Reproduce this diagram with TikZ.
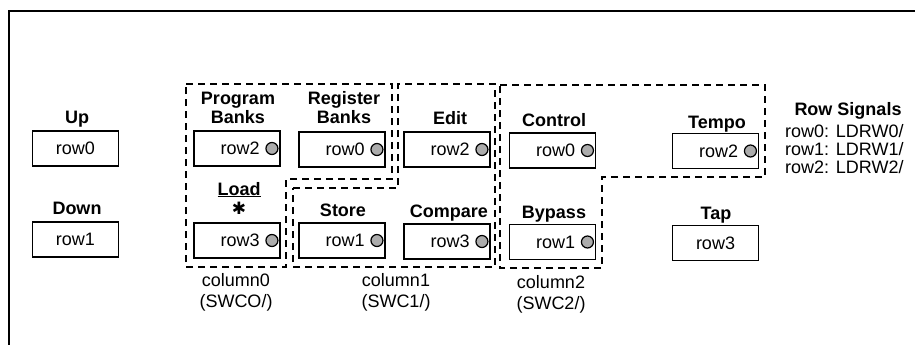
\documentclass[tikz,border=0pt]{standalone}
\usepackage{fontspec}
\setmainfont{Liberation Sans}
\newfontfamily\symfont{DejaVu Sans}
\begin{document}
\begin{tikzpicture}[x=1pt,y=-1pt,
  key/.style={draw,line width=1.9pt,minimum width=86pt,minimum height=35pt,inner sep=0pt},
  ktxt/.style={inner sep=0pt,font=\fontsize{18}{21}\selectfont},
  lbl/.style={inner sep=0pt,font=\bfseries\fontsize{18}{21}\selectfont},
  txt/.style={inner sep=0pt,font=\fontsize{18}{21}\selectfont},
  dotc/.style={circle,draw,line width=1.2pt,fill=gray!65,minimum size=12pt,inner sep=0pt},
  grp/.style={line width=1.7pt,dash pattern=on 7pt off 5pt}]
\useasboundingbox (0,0) rectangle (915,345);
\draw[line width=2pt] (9,345) -- (9,11) -- (915,11);

\newcommand\dotkey[3]{%
  \node[key] (#1) at (#2) {};
  \node[ktxt,anchor=east] (#1t) at ([xshift=-21pt]#1.east) {#3};
  \node[dotc] (#1d) at ([xshift=-9pt]#1.east) {};}

% plain keys
\node[key] (up) at (75.5,148.5) {}; \node[ktxt] (upt) at (up.center) {row0};
\node[key] (down) at (75.5,239.5) {}; \node[ktxt] (downt) at (down.center) {row1};
\node[key] (tap) at (715.5,243) {}; \node[ktxt] (tapt) at (tap.center) {row3};

% keys with indicator
\dotkey{pb}{237,148.5}{row2}
\dotkey{rb}{342,149.5}{row0}
\dotkey{edit}{447,149.5}{row2}
\dotkey{ctrl}{552.5,150.5}{row0}
\dotkey{tempo}{715.5,151}{row2}
\dotkey{load}{237,240.5}{row3}
\dotkey{store}{342,240.5}{row1}
\dotkey{cmp}{447,241.5}{row3}
\dotkey{byp}{552.5,242}{row1}

% labels
\node[lbl,anchor=base] (upL) at (77,123) {Up};
\node[lbl,anchor=base] (downL) at (77,214) {Down};
\node[lbl,anchor=base] (pbL1) at (238,104) {Program};
\node[lbl,anchor=base] (pbL2) at (238,123) {Banks};
\node[lbl,anchor=base] (rbL1) at (344,104) {Register};
\node[lbl,anchor=base] (rbL2) at (344,123) {Banks};
\node[lbl,anchor=base] (editL) at (450,124) {Edit};
\node[lbl,anchor=base] (ctrlL) at (554,126) {Control};
\node[lbl,anchor=base] (tempoL) at (717,128) {Tempo};
\node[lbl,anchor=base] (loadL) at (239,195) {\underline{Load}};
\node[inner sep=0pt,font=\symfont\bfseries\fontsize{17}{19}\selectfont] (ast) at (239,208) {✱};
\node[lbl,anchor=base] (storeL) at (343,216) {Store};
\node[lbl,anchor=base] (cmpL) at (449,217) {Compare};
\node[lbl,anchor=base] (bypL) at (554,218) {Bypass};
\node[lbl,anchor=base] (tapL) at (716,219) {Tap};

% column groups
\draw[grp] (186,84) -- (392,84) -- (392,179) -- (286,179) -- (286,267) -- (186,267) -- cycle;
\draw[grp] (293,188) -- (398,188) -- (398,84) -- (495,84) -- (495,267) -- (293,267) -- cycle;
\draw[grp] (500,85) -- (765,85) -- (765,177) -- (602,177) -- (602,268) -- (500,268) -- cycle;

% column captions
\node[txt,anchor=base] (c0a) at (236,286) {column0};
\node[txt,anchor=base] (c0b) at (236,307) {(SWCO/)};
\node[txt,anchor=base] (c1a) at (396,286) {column1};
\node[txt,anchor=base] (c1b) at (396,307) {(SWC1/)};
\node[txt,anchor=base] (c2a) at (551,288) {column2};
\node[txt,anchor=base] (c2b) at (551,309) {(SWC2/)};

% row signals
\node[lbl,anchor=base] (rsH) at (848,115) {Row Signals};
\node[txt,anchor=base west] (rs0) at (785,137) {row0: LDRW0/};
\node[txt,anchor=base west] (rs1) at (785,155) {row1: LDRW1/};
\node[txt,anchor=base west] (rs2) at (785,173) {row2: LDRW2/};
\end{tikzpicture}
\end{document}
